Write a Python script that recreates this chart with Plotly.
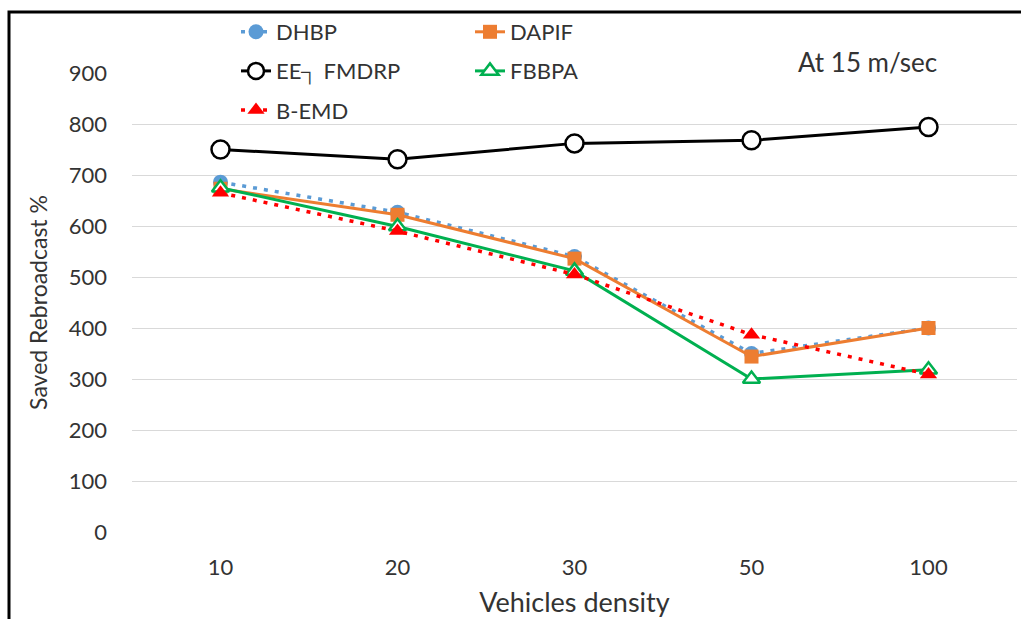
import plotly.graph_objects as go

categories = ["10", "20", "30", "50", "100"]
dhbp = [686, 627, 540, 350, 400]
dapif = [673, 622, 536, 344, 400]
ee_fmdrp = [750, 731, 762, 768, 794]
fbbpa = [675, 599, 512, 300, 318]
b_emd = [665, 590, 505, 387, 309]
y_ticks = [0, 100, 200, 300, 400, 500, 600, 700, 800, 900]

FONT = "Lato"
TXT = "#333333"

W, H = 1021, 619
L, R, T, B = 132, 4, 73, 87

fig = go.Figure()

fig.add_trace(go.Scatter(
    x=categories, y=dhbp, name="DHBP", mode="lines+markers",
    line=dict(color="#5B9BD5", width=3.5, dash="4px,7px"),
    marker=dict(symbol="circle", size=15, color="#5B9BD5"),
    legend="legend", legendgroup="a", legendrank=1))
fig.add_trace(go.Scatter(
    x=categories, y=dapif, name="DAPIF", mode="lines+markers",
    line=dict(color="#ED7D31", width=3),
    marker=dict(symbol="square", size=14, color="#ED7D31"),
    legend="legend2", legendgroup="b", legendrank=1))
fig.add_trace(go.Scatter(
    x=categories, y=ee_fmdrp, name="EE\u2510 FMDRP", mode="lines+markers",
    line=dict(color="black", width=3),
    marker=dict(symbol="circle", size=18, color="white",
                line=dict(color="black", width=2.5)),
    legend="legend", legendgroup="c", legendrank=2))
fig.add_trace(go.Scatter(
    x=categories, y=fbbpa, name="FBBPA", mode="lines+markers",
    line=dict(color="#00B050", width=3),
    marker=dict(symbol="triangle-up", size=15, color="white",
                line=dict(color="#00B050", width=2.5)),
    legend="legend2", legendgroup="d", legendrank=2))
fig.add_trace(go.Scatter(
    x=categories, y=b_emd, name="B-EMD", mode="lines+markers",
    line=dict(color="#FF0000", width=3.5, dash="4px,7px"),
    marker=dict(symbol="triangle-up", size=15, color="#FF0000"),
    legend="legend", legendgroup="e", legendrank=3))

def px2paper_x(px):
    return (px - L) / (W - L - R)

def px2paper_y(py):
    return (H - B - py) / (H - T - B)

# outer chart border
fig.add_shape(type="rect", xref="paper", yref="paper",
              x0=px2paper_x(9), x1=px2paper_x(1030),
              y0=px2paper_y(640), y1=px2paper_y(12),
              line=dict(color="black", width=3), fillcolor="rgba(0,0,0,0)",
              layer="above")

fig.add_annotation(text="At 15 m/sec", xref="paper", yref="paper",
                   x=px2paper_x(796), y=px2paper_y(62), xanchor="left",
                   yanchor="middle", showarrow=False,
                   font=dict(family=FONT, size=26, color=TXT))

legend_common = dict(
    orientation="v", xref="paper", yref="paper",
    bgcolor="rgba(0,0,0,0)", font=dict(family=FONT, size=22, color=TXT),
    tracegroupgap=7.5, yanchor="top", xanchor="left")

fig.update_layout(
    width=W, height=H,
    margin=dict(l=L, r=R, t=T, b=B, autoexpand=False),
    paper_bgcolor="white", plot_bgcolor="white",
    font=dict(family=FONT, size=22, color=TXT),
    showlegend=True,
    legend=dict(x=px2paper_x(236), y=px2paper_y(11), **legend_common),
    legend2=dict(x=px2paper_x(470), y=px2paper_y(11), **legend_common),
    xaxis=dict(type="category", categoryorder="array", categoryarray=categories,
               range=[-0.5, 4.5], showgrid=False, showline=False, zeroline=False,
               ticks="", ticklabelstandoff=20,
               tickfont=dict(family=FONT, size=22, color=TXT),
               title=dict(text="Vehicles density", standoff=14,
                          font=dict(family=FONT, size=27, color=TXT))),
    yaxis=dict(range=[0, 900], tickvals=y_ticks, showgrid=True,
               gridcolor="#D9D9D9", gridwidth=1, zeroline=False, showline=False,
               ticks="", ticklabelstandoff=24,
               tickfont=dict(family=FONT, size=22, color=TXT),
               title=dict(text="Saved Rebroadcast %", standoff=14,
                          font=dict(family=FONT, size=23, color=TXT))),
)

fig.write_html("out.html")
